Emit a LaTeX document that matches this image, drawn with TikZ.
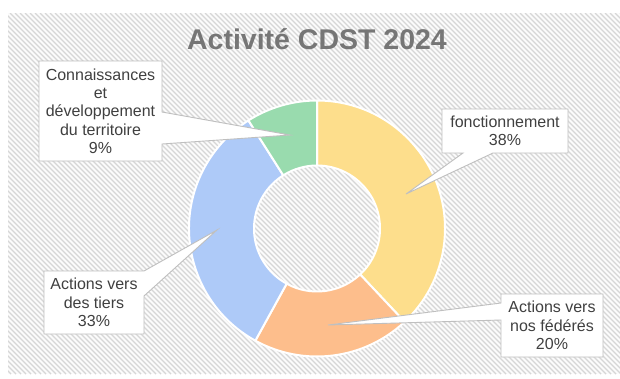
\documentclass[tikz,border=0pt]{standalone}
\usepackage{fontspec}
\setmainfont{Liberation Sans}
\definecolor{cyel}{HTML}{FDDE8C}
\definecolor{cora}{HTML}{FDBE8C}
\definecolor{cblu}{HTML}{AECAF8}
\definecolor{cgrn}{HTML}{99DBAE}
\definecolor{hatchcol}{HTML}{D6D6D6}
\definecolor{boxgray}{HTML}{BFBFBF}
\definecolor{lbltext}{HTML}{404040}
\definecolor{titlecol}{HTML}{767676}
\begin{document}
\begin{tikzpicture}[x=1pt,y=-1pt,
  lbl/.style={align=center, font=\fontsize{16}{18.3}\selectfont, text=lbltext, inner sep=0pt},
  callout/.style={fill=white, draw=boxgray, line width=0.9pt, line join=miter},
  hatch/.style={draw=hatchcol, line width=1.4pt}]
\useasboundingbox (0,0) rectangle (620,378);
\fill[white] (0,0) rectangle (620,378);
\fill[white!97!gray] (8,13) rectangle (620,374);
\begin{scope}
  \clip (8,13) rectangle (620,374);
  \foreach \k in {-370,-365,...,620} \draw[hatch] (\k,13) -- ++(361,361);
\end{scope}
% title
\node[font=\bfseries\fontsize{28.5}{30}\selectfont, text=titlecol, anchor=base] (title) at (317,49.5) {Activité CDST 2024};
% donut
\begin{scope}[shift={(317,228.5)}, y=1pt]
  \foreach \a/\b/\c in {90/-46.8/cyel, -46.8/-118.8/cora, -118.8/-237.6/cblu, -237.6/-270/cgrn}
    \filldraw[fill=\c, draw=white, line width=2pt, line join=round]
      (\a:128) arc[start angle=\a, end angle=\b, radius=128]
      -- (\b:63) arc[start angle=\b, end angle=\a, radius=63] -- cycle;
\end{scope}
% callouts
\draw[callout] (442,109) -- (568,109) -- (568,153) -- (493,153) -- (406,194) -- (463,153) -- (442,153) -- cycle;
\draw[callout] (501,294) -- (603,294) -- (603,357) -- (501,357) -- (501,320) -- (328,325) -- (501,303) -- cycle;
\draw[callout] (44,271) -- (144,271) -- (217,230) -- (144,296) -- (144,334) -- (44,334) -- cycle;
\draw[callout] (39,61) -- (162,61) -- (162,112) -- (290,135) -- (162,144) -- (162,161) -- (39,161) -- cycle;
% labels
\node[lbl] (fonc) at (505,131) {fonctionnement\\38\%};
\node[lbl] (fed) at (552,325.5) {Actions vers\\nos fédérés\\20\%};
\node[lbl] (tiers) at (94,302.5) {Actions vers\\des tiers\\33\%};
\node[lbl] (conn) at (100.5,111) {Connaissances\\et\\développement\\du territoire\\9\%};
\end{tikzpicture}
\end{document}
